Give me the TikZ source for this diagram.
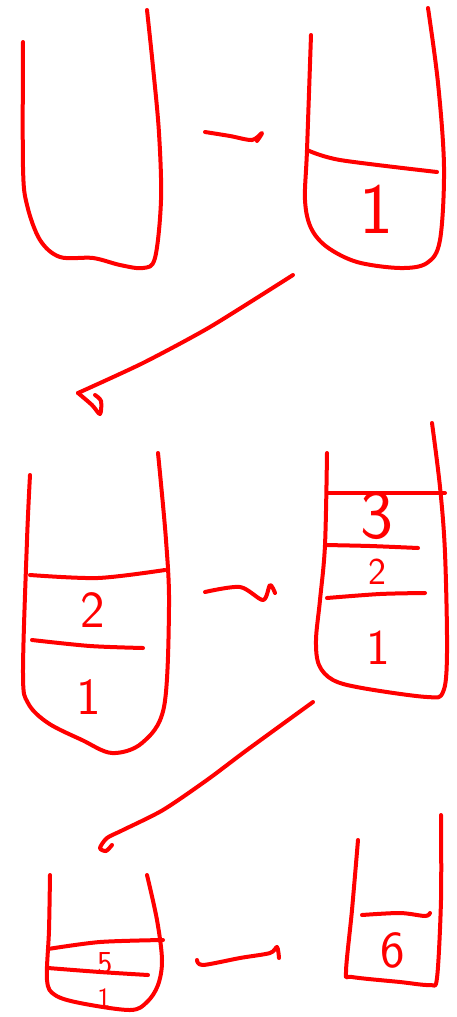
\documentclass[tikz,border=0pt]{standalone}
\begin{document}
\begin{tikzpicture}[x=1pt,y=-1pt,line width=4pt,
  ink/.style={draw=red,line width=4pt,line cap=round,line join=round},
  num/.style={text=red,inner sep=0pt,font=\sffamily\fontsize{#1}{#1}\selectfont}]
  \useasboundingbox (0,0) rectangle (456,1017);
  % (a): empty cup
  \begin{scope}
    \draw[ink] plot[smooth,tension=.55] coordinates {(23,42) (23,167) (27,205) (40,240) (60,257) (93,258) (120,265) (143,268) (155,258) (161,200) (159,133) (153,67) (147,10)};
  \end{scope}
  % (b): one item
  \begin{scope}
    \draw[ink] plot[smooth,tension=.55] coordinates {(311,35) (307,150) (305,200) (311,228) (327,247) (357,262) (400,268) (427,263) (440,240) (444,167) (438,83) (428,8)};
    \draw[ink] plot[smooth] coordinates {(307,150) (340,160) (437,172)};
    \node[num=72] (b1) at (376,209) {1};
  \end{scope}
  % (c): two items
  \begin{scope}
    \draw[ink] plot[smooth,tension=.55] coordinates {(30,475) (27,540) (23,673) (28,703) (48,723) (82,740) (112,753) (142,743) (164,707) (169,607) (166,540) (158,453)};
    \draw[ink] plot[smooth] coordinates {(30,575) (98,578) (165,570)};
    \draw[ink] plot[smooth] coordinates {(32,640) (90,646) (143,648)};
    \node[num=52] (c2) at (93,610) {2};
    \node[num=52] (c1) at (89,697) {1};
  \end{scope}
  % (d): three items
  \begin{scope}
    \draw[ink] plot[smooth,tension=.55] coordinates {(327,453) (325,545) (320,600) (316,640) (319,665) (333,680) (362,688) (427,697) (443,692) (447,653) (445,553) (440,487) (432,423)};
    \draw[ink] (327,493) -- (445,493);
    \draw[ink] plot[smooth] coordinates {(325,545) (370,546) (418,548)};
    \draw[ink] plot[smooth] coordinates {(327,598) (380,594) (425,593)};
    \node[num=70] (d3) at (377,516) {3};
    \node[num=38] (d2) at (377,572) {2};
    \node[num=50] (d1) at (378,648) {1};
  \end{scope}
  % (e): two items, small cup
  \begin{scope}
    \draw[ink] plot[smooth,tension=.55] coordinates {(50,875) (49,930) (47,980) (55,995) (80,1003) (130,1010) (147,1002) (158,985) (162,960) (157,920) (147,875)};
    \draw[ink] plot[smooth] coordinates {(48,949) (100,942) (163,940)};
    \draw[ink] plot[smooth] coordinates {(48,968) (100,972) (148,975)};
    \node[num=32] (e5) at (105,963) {5};
    \node[num=28] (e1) at (104,998) {1};
  \end{scope}
  % (f): one item
  \begin{scope}
    \draw[ink] plot[smooth,tension=.5] coordinates {(358,840) (352,910) (346,972) (352,977) (400,982) (430,985) (437,978) (441,900) (441,815)};
    \draw[ink] plot[smooth] coordinates {(362,915) (400,913) (425,916) (430,913)};
    \node[num=52] (f6) at (393,950) {6};
  \end{scope}
  % arrows between cups
  \coordinate (a1s) at (205,132);
  \coordinate (a1e) at (252,140);
  \draw[ink] plot[smooth] coordinates {(a1s) (230,136) (a1e) (262,133) (257,141)};
  \coordinate (a2s) at (293,275);
  \coordinate (a2e) at (78,393);
  \draw[ink] plot[smooth,tension=.4] coordinates {(a2s) (210,327) (143,363) (a2e)};
  \draw[ink] plot[smooth,tension=.5] coordinates {(a2e) (92,405) (100,414) (101,401) (95,395)};
  \coordinate (a3s) at (205,592);
  \coordinate (a3e) at (275,593);
  \draw[ink] plot[smooth] coordinates {(a3s) (240,587) (263,600) (270,585) (a3e)};
  \coordinate (a4s) at (313,702);
  \coordinate (a4e) at (100,848);
  \draw[ink] plot[smooth,tension=.45] coordinates {(a4s) (247,750) (207,780) (163,810) (123,830) (107,838) (a4e) (106,851) (112,845)};
  \coordinate (a5s) at (197,960);
  \coordinate (a5e) at (277,947);
  \draw[ink] plot[smooth] coordinates {(a5s) (203,965) (240,958) (270,953) (a5e) (279,958)};
\end{tikzpicture}
\end{document}
